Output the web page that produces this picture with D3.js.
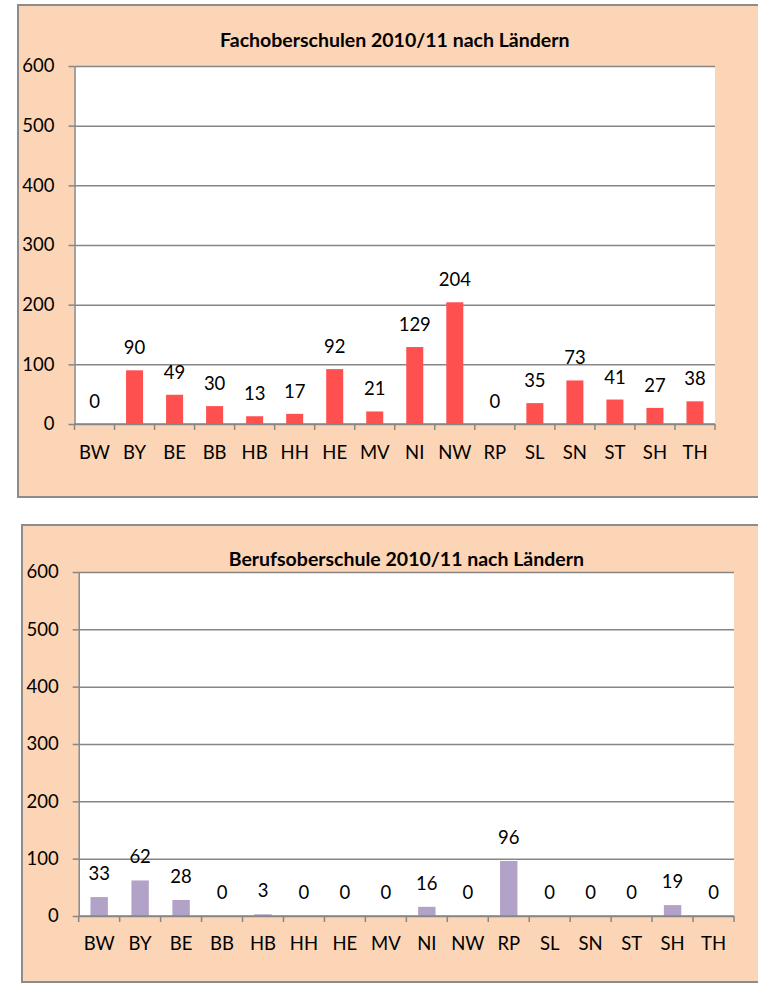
<!DOCTYPE html>
<html>
<head>
<meta charset="utf-8">
<script src="https://cdn.jsdelivr.net/npm/d3@7"></script>
<style>
  html, body { margin: 0; padding: 0; background: #ffffff; }
  svg { display: block; }
  text { font-family: Lato, "Open Sans", sans-serif; fill: #000; }
</style>
</head>
<body>
<svg id="chart" width="758" height="984"></svg>
<script>
// ---- data ----
const categories = ["BW","BY","BE","BB","HB","HH","HE","MV","NI","NW","RP","SL","SN","ST","SH","TH"];
const fachoberschulenValues = [0, 90, 49, 30, 13, 17, 92, 21, 129, 204, 0, 35, 73, 41, 27, 38];
const berufsoberschuleValues = [33, 62, 28, 0, 3, 0, 0, 0, 16, 0, 96, 0, 0, 0, 19, 0];
const yTickValues = [0, 100, 200, 300, 400, 500, 600];
const titleFachoberschulen = "Fachoberschulen 2010/11 nach Ländern";
const titleBerufsoberschule = "Berufsoberschule 2010/11 nach Ländern";

// ---- style ----
const peach = "#FBD5B5";
const borderGray = "#8c8c8c";
const gridGray = "#868686";
const labelSize = 18.5;
const titleSize = 19.5;

const svg = d3.select("#chart");

function drawChart(cfg) {
  const g = svg.append("g");
  // outer box
  g.append("rect")
    .attr("x", cfg.box.x).attr("y", cfg.box.y)
    .attr("width", cfg.box.right - cfg.box.x).attr("height", cfg.box.bottom - cfg.box.y)
    .attr("fill", peach).attr("stroke", borderGray).attr("stroke-width", 2);

  const p = cfg.plot;
  const w = p.right - p.left, h = p.bottom - p.top;

  // plot area
  g.append("rect").attr("x", p.left).attr("y", p.top).attr("width", w).attr("height", h)
    .attr("fill", "#fff");

  const y = d3.scaleLinear().domain([0, 600]).range([p.bottom, p.top]);
  const xBoundary = d3.scaleBand().domain(categories).range([p.left, p.right]).padding(0);
  const xBar = d3.scaleBand().domain(categories).range([p.left, p.right])
    .paddingInner(0.575).paddingOuter(0.2875);

  // gridlines
  const grid = g.append("g").attr("transform", `translate(${p.left},0)`)
    .call(d3.axisLeft(y).tickValues(yTickValues).tickSize(-w).tickFormat(""));
  grid.select(".domain").remove();
  grid.selectAll("line").attr("stroke", gridGray).attr("stroke-width", 1.5);

  // y axis
  const ya = g.append("g").attr("transform", `translate(${p.left},0)`)
    .call(d3.axisLeft(y).tickValues(yTickValues).tickSize(6).tickPadding(14).tickSizeOuter(0));
  ya.select(".domain").attr("stroke", gridGray).attr("stroke-width", 1.5);
  ya.selectAll("line").attr("stroke", gridGray).attr("stroke-width", 1.5);
  ya.selectAll("text").attr("font-size", labelSize).attr("font-family", "Lato").attr("fill", "#000");

  // bars
  g.append("g").selectAll("rect").data(cfg.values).join("rect")
    .attr("x", (d, i) => xBar(categories[i]))
    .attr("width", xBar.bandwidth())
    .attr("y", d => y(d))
    .attr("height", d => p.bottom - y(d))
    .attr("fill", cfg.color);

  // x axis line
  g.append("line").attr("x1", p.left).attr("x2", p.right).attr("y1", p.bottom).attr("y2", p.bottom)
    .attr("stroke", gridGray).attr("stroke-width", 1.5);
  // x ticks at boundaries
  const bounds = categories.map(c => xBoundary(c)).concat([p.right]);
  g.append("g").selectAll("line").data(bounds).join("line")
    .attr("x1", d => d).attr("x2", d => d)
    .attr("y1", p.bottom).attr("y2", p.bottom + 6)
    .attr("stroke", gridGray).attr("stroke-width", 1.5);
  // category labels
  g.append("g").selectAll("text").data(categories).join("text")
    .attr("x", c => xBoundary(c) + xBoundary.bandwidth() / 2)
    .attr("y", p.bottom + cfg.catOffset)
    .attr("text-anchor", "middle").attr("font-size", labelSize)
    .text(c => c);

  // data labels
  g.append("g").selectAll("text").data(cfg.values).join("text")
    .attr("x", (d, i) => xBoundary(categories[i]) + xBoundary.bandwidth() / 2)
    .attr("y", d => y(d) - cfg.labelOffset)
    .attr("text-anchor", "middle").attr("font-size", labelSize)
    .text(d => d);

  // title
  g.append("text")
    .attr("x", (p.left + p.right) / 2).attr("y", cfg.titleY)
    .attr("text-anchor", "middle").attr("font-weight", "bold").attr("font-size", titleSize)
    .text(cfg.title);
}

drawChart({
  box: { x: 18, y: 5, right: 780, bottom: 497 },
  plot: { left: 74.5, top: 66, right: 715, bottom: 424 },
  values: fachoberschulenValues,
  color: "#FF5050",
  title: titleFachoberschulen,
  titleY: 47,
  catOffset: 35,
  labelOffset: 16
});

drawChart({
  box: { x: 22, y: 525, right: 780, bottom: 982 },
  plot: { left: 78.7, top: 572, right: 734, bottom: 916 },
  values: berufsoberschuleValues,
  color: "#B3A2C7",
  title: titleBerufsoberschule,
  titleY: 566,
  catOffset: 34,
  labelOffset: 17
});
</script>
</body>
</html>
